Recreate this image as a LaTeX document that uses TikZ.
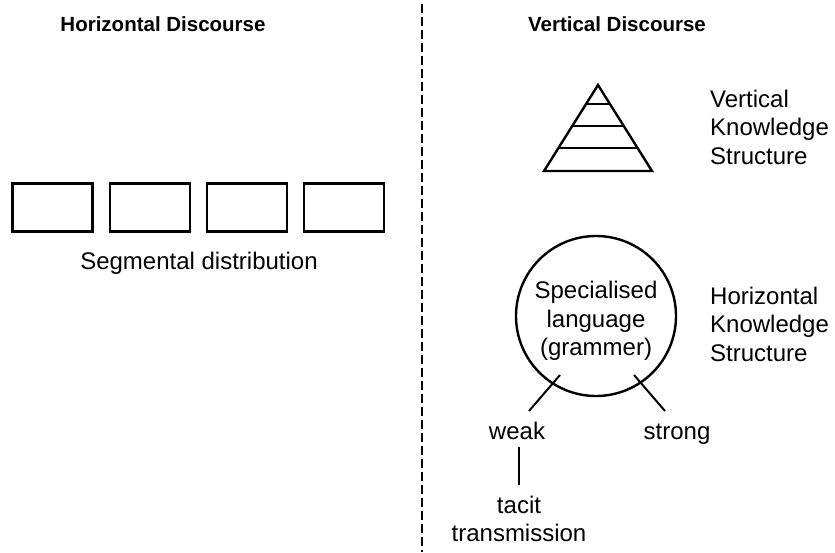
\documentclass[tikz,border=0pt]{standalone}
\usepackage{fontspec}
\setmainfont{Liberation Sans}
\usetikzlibrary{calc}
\begin{document}
\begin{tikzpicture}[x=1pt,y=-1pt,
  title/.style={font=\fontsize{20.5}{24}\selectfont\bfseries, inner sep=0pt, anchor=base},
  body/.style={font=\fontsize{24}{28.5}\selectfont, inner sep=0pt, align=center},
  lbl/.style={font=\fontsize{24}{28.5}\selectfont, inner sep=0pt, align=left},
  seg/.style={draw, line width=2.4pt, minimum width=80pt, minimum height=48pt, inner sep=0pt},
  thin/.style={line width=2pt}]
\useasboundingbox (0,0) rectangle (835,552);
\node[title] (th) at (163,31) {Horizontal Discourse};
\node[title] (tv) at (617,31) {Vertical Discourse};
\coordinate (dtop) at (422,4);
\coordinate (dbot) at (422,552);
\draw[line width=1.6pt, dash pattern=on 9pt off 4pt] (dtop) -- (dbot);
% segments
\node[seg] (s1) at (52.5,207.5) {};
\node[seg] (s2) at (150,207.5) {};
\node[seg] (s3) at (247,207.5) {};
\node[seg] (s4) at (344,207.5) {};
\node[body] (segtxt) at (199,263) {Segmental distribution};
% triangle
\coordinate (apex) at (598,85);
\coordinate (bl) at (544,171);
\coordinate (br) at (652,171);
\draw[line width=2.4pt, line join=miter] (apex) -- (br) -- (bl) -- cycle;
\foreach \yy in {104,125.5,147.5}{
  \draw[line width=2pt] ($(bl)!{(171-\yy)/86}!(apex)$) -- ($(br)!{(171-\yy)/86}!(apex)$);
}
\node[lbl, anchor=west] (vks) at (710,127) {Vertical\\Knowledge\\Structure};
% circle
\node[draw, circle, line width=2.4pt, minimum size=160pt, inner sep=0pt] (circ) at (596,316) {};
\node[body] (spec) at (596,321) {Specialised\\language\\(grammer)};
\node[lbl, anchor=west] (hks) at (710,324) {Horizontal\\Knowledge\\Structure};
\node[body, anchor=base] (weak) at (517,439) {weak};
\node[body, anchor=base] (strong) at (677,439) {strong};
\coordinate (w1) at (560,375);
\coordinate (w2) at (529,411);
\coordinate (s1a) at (634,375);
\coordinate (s2a) at (665,411);
\draw[thin] (w1) -- (w2);
\draw[thin] (s1a) -- (s2a);
\node[body] (tacit) at (519,519) {tacit\\transmission};
\coordinate (v1) at (519,447);
\coordinate (v2) at (519,485);
\draw[thin] (v1) -- (v2);
\end{tikzpicture}
\end{document}
